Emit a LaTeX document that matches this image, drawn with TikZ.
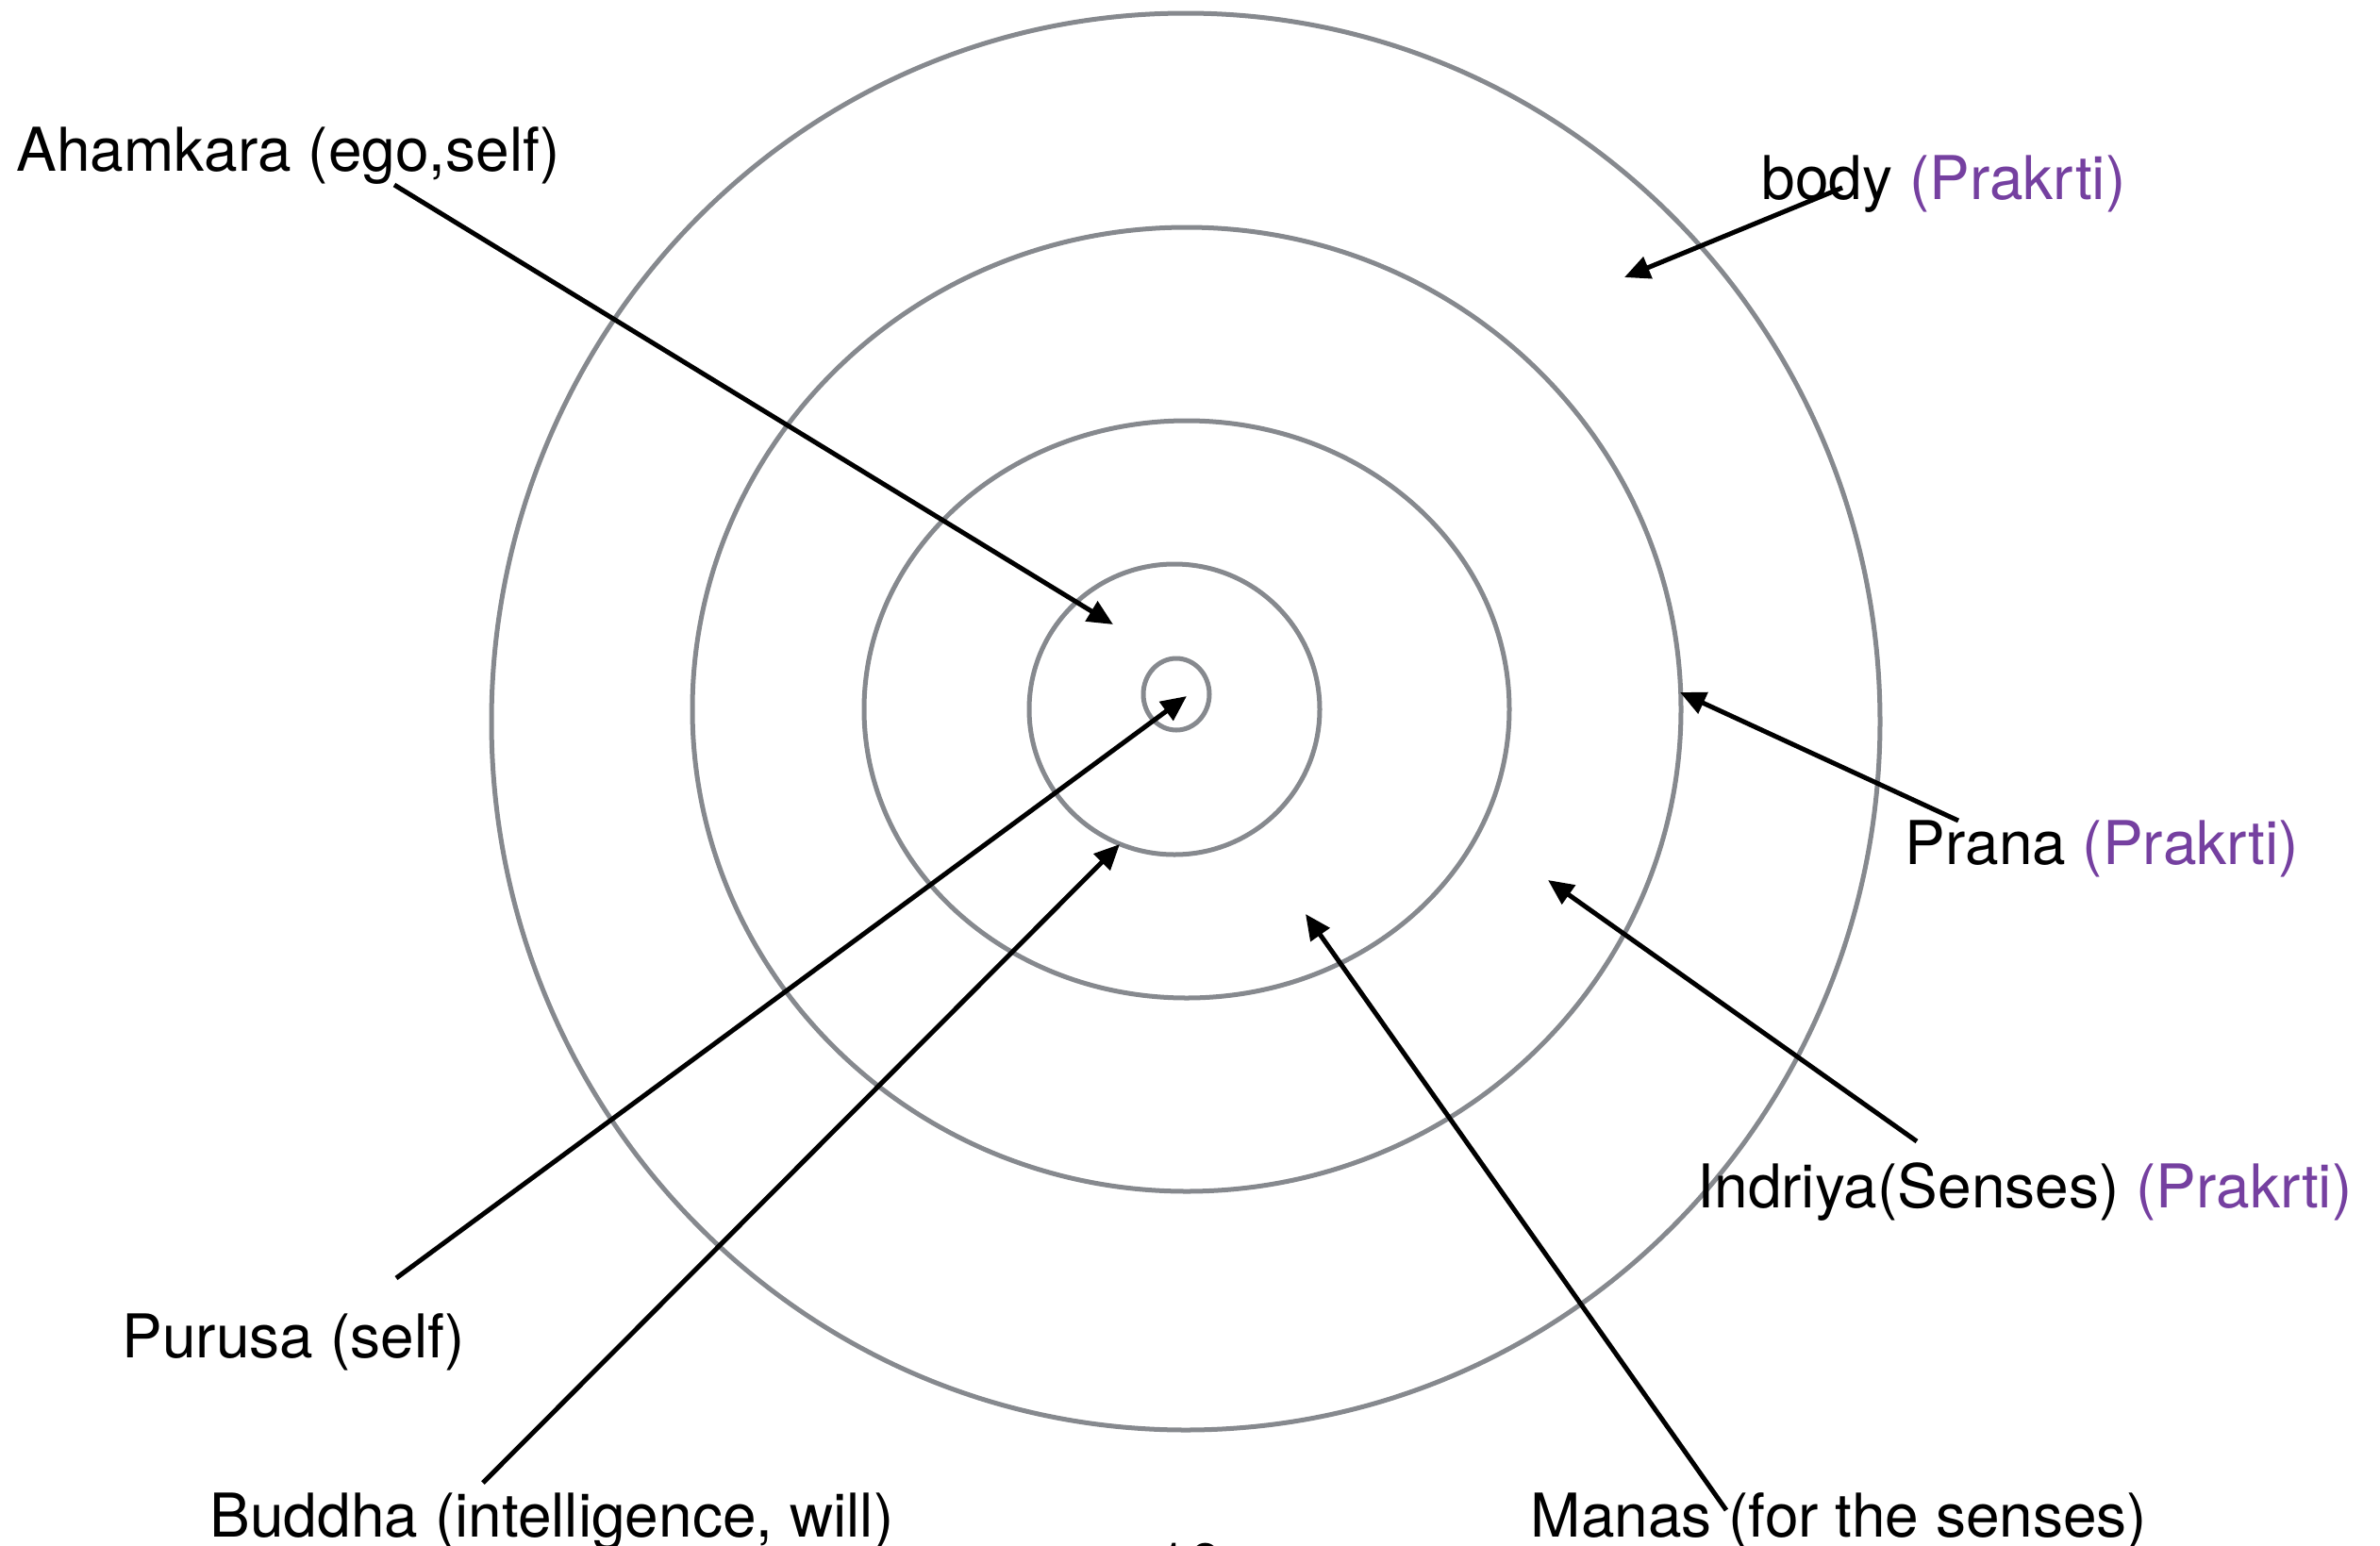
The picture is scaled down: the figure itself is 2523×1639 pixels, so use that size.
\documentclass[tikz,border=0pt]{standalone}
\usepackage{fontspec}
\setmainfont{TeX Gyre Heros}
\usepackage{xcolor}
\usetikzlibrary{arrows.meta}
\definecolor{ringgray}{RGB}{134,137,142}
\definecolor{prakrti}{RGB}{117,64,160}
\newcommand{\prak}[1]{\textcolor{prakrti}{#1}}

\begin{document}
\begin{tikzpicture}[x=0.01cm,y=-0.01cm,
	ring/.style={draw=ringgray,line width=0.05cm},
	pointer/.style={draw=black,line width=0.05cm,-{Triangle[length=0.27cm,width=0.24cm]}},
	lbl/.style={anchor=base west,font=\fontsize{18.2}{22}\selectfont}]
	\tikzstyle{every node}+=[inner sep=0pt]
	\useasboundingbox (0,0) rectangle (2523,1639);
	\draw [ring] (1257,765) ellipse (736 and 751);
	\draw [ring] (1258,752) ellipse (524 and 511);
	\draw [ring] (1258,752) ellipse (342 and 306);
	\draw [ring] (1245,752) circle (154);
	\draw [ring] (1247,736) ellipse (35 and 38);
	\node [lbl] (ahamkara) at (17,181) {Ahamkara (ego,self)};
	\node [lbl] (body) at (1867,211) {body \prak{(Prakrti)}};
	\node [lbl] (prana) at (2019,916) {Prana \prak{(Prakrti)}};
	\node [lbl] (indriya) at (1799,1280) {Indriya(Senses) \prak{(Prakrti)}};
	\node [lbl] (purusa) at (129,1439) {Purusa (self)};
	\node [lbl] (buddha) at (222,1629) {Buddha (intelligence, will)};
	\node [lbl] (manas) at (1622,1629) {Manas (for the senses)};
	\node [lbl] (page) at (1224,1681) {10};
	\coordinate (ahamkara-tail) at (418,196);
	\coordinate (ahamkara-tip) at (1180,662);
	\coordinate (body-tail) at (1953,199);
	\coordinate (body-tip) at (1722,294);
	\coordinate (prana-tail) at (2076,870);
	\coordinate (prana-tip) at (1781,734);
	\coordinate (indriya-tail) at (2032,1210);
	\coordinate (indriya-tip) at (1641,933);
	\coordinate (manas-tail) at (1830,1601);
	\coordinate (manas-tip) at (1384,969);
	\coordinate (purusa-tail) at (420,1355);
	\coordinate (purusa-tip) at (1258,738);
	\coordinate (buddha-tail) at (512,1572);
	\coordinate (buddha-tip) at (1187,895);
	\draw [pointer] (ahamkara-tail) -- (ahamkara-tip);
	\draw [pointer] (body-tail) -- (body-tip);
	\draw [pointer] (prana-tail) -- (prana-tip);
	\draw [pointer] (indriya-tail) -- (indriya-tip);
	\draw [pointer] (manas-tail) -- (manas-tip);
	\draw [pointer] (purusa-tail) -- (purusa-tip);
	\draw [pointer] (buddha-tail) -- (buddha-tip);
\end{tikzpicture}
\end{document}
